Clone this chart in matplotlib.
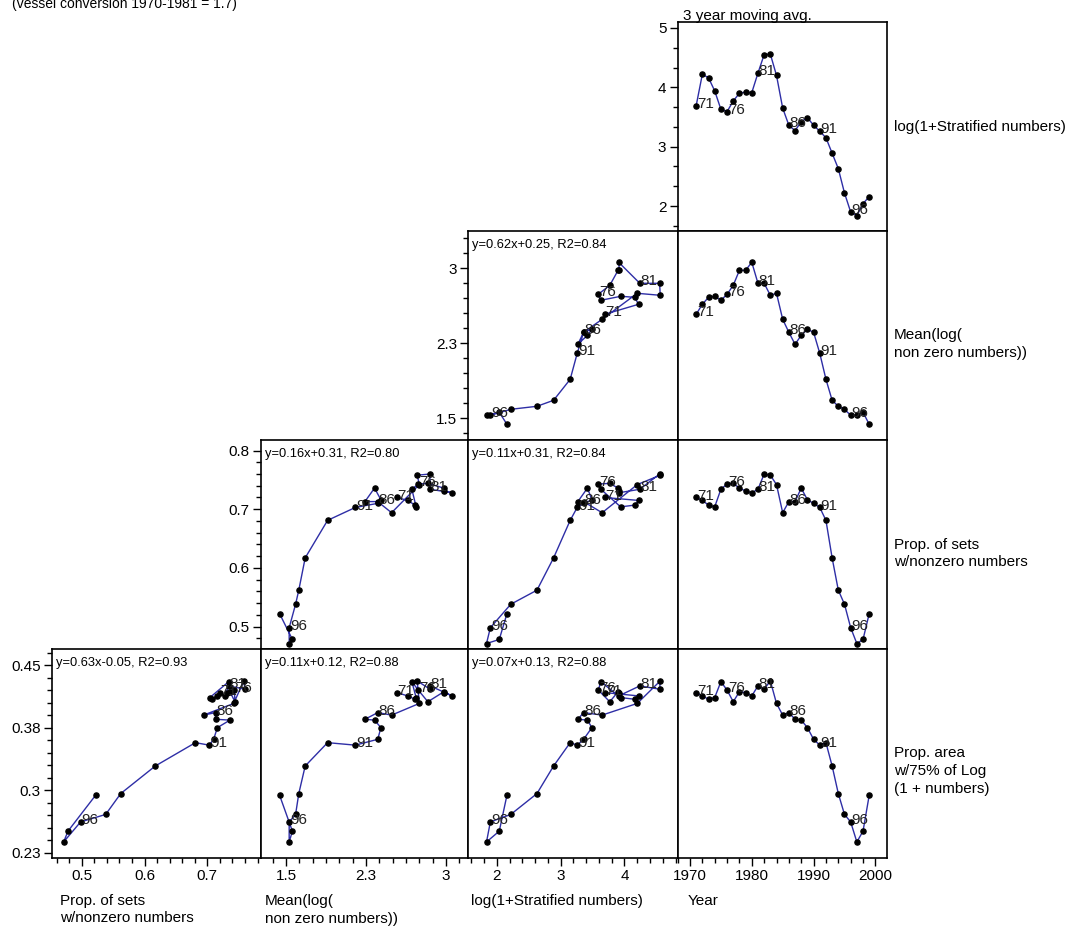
import matplotlib
matplotlib.use("Agg")
import matplotlib.pyplot as plt
from matplotlib.ticker import FixedLocator, AutoMinorLocator, NullLocator

plt.rcParams["font.family"] = ["Liberation Sans", "DejaVu Sans"]

# ---- data -----------------------------------------------------------------
years = list(range(1971, 2000))

# log(1+Stratified numbers), 3 year moving average
strat = [3.69, 4.22, 4.16, 3.94, 3.63, 3.59, 3.77, 3.90, 3.92, 3.91,
         4.24, 4.55, 4.56, 4.20, 3.65, 3.36, 3.27, 3.42, 3.49, 3.36,
         3.26, 3.15, 2.89, 2.63, 2.22, 1.90, 1.84, 2.04, 2.16]

# Mean(log(non zero numbers))
mean_nz = [2.54, 2.64, 2.71, 2.72, 2.68, 2.74, 2.83, 2.98, 2.98, 3.06,
           2.85, 2.85, 2.73, 2.75, 2.49, 2.36, 2.24, 2.33, 2.39, 2.36,
           2.15, 1.89, 1.68, 1.62, 1.59, 1.53, 1.53, 1.56, 1.44]

# Prop. of sets w/nonzero numbers
prop_sets = [0.720, 0.715, 0.707, 0.704, 0.734, 0.743, 0.744, 0.736, 0.731, 0.728,
             0.734, 0.760, 0.758, 0.742, 0.694, 0.713, 0.713, 0.736, 0.716, 0.710,
             0.703, 0.681, 0.617, 0.562, 0.538, 0.498, 0.471, 0.478, 0.522]

# Prop. area w/75% of Log(1 + numbers)
prop_area = [0.417, 0.413, 0.409, 0.411, 0.430, 0.420, 0.406, 0.418, 0.417, 0.413,
             0.425, 0.421, 0.431, 0.404, 0.390, 0.393, 0.385, 0.384, 0.375, 0.361,
             0.354, 0.357, 0.329, 0.296, 0.271, 0.262, 0.238, 0.251, 0.294]

label_years = [1971, 1976, 1981, 1986, 1991, 1996]

var_names = ["log(1+Stratified numbers)",
             "Mean(log(\nnon zero numbers))",
             "Prop. of sets\nw/nonzero numbers",
             "Prop. area\nw/75% of Log\n(1 + numbers)"]

# regression text for (row, col) panels
fit_text = {
    (1, 2): "y=0.62x+0.25, R2=0.84",
    (2, 1): "y=0.16x+0.31, R2=0.80",
    (2, 2): "y=0.11x+0.31, R2=0.84",
    (3, 0): "y=0.63x-0.05, R2=0.93",
    (3, 1): "y=0.11x+0.12, R2=0.88",
    (3, 2): "y=0.07x+0.13, R2=0.88",
}

# row variables (top to bottom) and column variables (left to right)
row_data = [strat, mean_nz, prop_sets, prop_area]
col_data = [prop_sets, mean_nz, strat, years]

row_ticks = [([2, 3, 4, 5], ["2", "3", "4", "5"]),
             ([1.5, 2.25, 3.0], ["1.5", "2.3", "3"]),
             ([0.5, 0.6, 0.7, 0.8], ["0.5", "0.6", "0.7", "0.8"]),
             ([0.225, 0.3, 0.375, 0.45], ["0.23", "0.3", "0.38", "0.45"])]
row_minor = [3, 5, 5, 5]
row_lims = [(1.58, 5.10), (1.283, 3.373), (0.4617, 0.818), (0.2188, 0.4692)]

col_ticks = [([0.5, 0.6, 0.7], ["0.5", "0.6", "0.7"]),
             ([1.5, 2.25, 3.0], ["1.5", "2.3", "3"]),
             ([2, 3, 4], ["2", "3", "4"]),
             ([1970, 1980, 1990, 2000], ["1970", "1980", "1990", "2000"])]
col_minor = [5, 6, 5, 5]
col_lims = [(0.452, 0.785), (1.263, 3.209), (1.555, 4.83), (1967.98, 2001.83)]

# panel grid in pixels
W, H = 1077, 933
col_edges = [51.7, 260.7, 468.3, 677.5, 886.7]
row_edges = [22, 231, 440, 649, 858]
first_col = [3, 2, 1, 0]   # leftmost panel present in each row

LINE = "#2e2ea6"
FS = 11

fig = plt.figure(figsize=(W / 100, H / 100), dpi=100)
fig.patch.set_facecolor("white")


def add_panel(r, c):
    x0, x1 = col_edges[c], col_edges[c + 1]
    y0, y1 = row_edges[r], row_edges[r + 1]
    ax = fig.add_axes([x0 / W, 1 - y1 / H, (x1 - x0) / W, (y1 - y0) / H])
    ax.set_xlim(*col_lims[c])
    ax.set_ylim(*row_lims[r])
    for sp in ax.spines.values():
        sp.set_linewidth(1.2)
        sp.set_color("black")
    xs, ys = col_data[c], row_data[r]
    ax.plot(xs, ys, color=LINE, lw=1.0, marker="o", ms=3.7,
            mfc="black", mec="black", zorder=3)
    for yr in label_years:
        i = years.index(yr)
        ax.annotate(str(yr)[2:], (xs[i], ys[i]), xytext=(0.5, -1.5),
                    textcoords="offset points", ha="left", va="baseline",
                    fontsize=FS, color="#222222", zorder=4)
    if (r, c) in fit_text:
        ax.text(4 / (x1 - x0), 1 - 14 / (y1 - y0), fit_text[(r, c)],
                transform=ax.transAxes, ha="left", va="center", fontsize=9.3)
    # ticks
    ax.tick_params(which="both", direction="out", labelsize=FS, pad=2,
                   colors="black")
    ax.tick_params(which="major", length=6, width=1)
    ax.tick_params(which="minor", length=3.5, width=1)
    if r == 3:
        loc, lab = col_ticks[c]
        ax.xaxis.set_major_locator(FixedLocator(loc))
        ax.set_xticklabels(lab)
        ax.xaxis.set_minor_locator(AutoMinorLocator(col_minor[c]))
    else:
        ax.xaxis.set_major_locator(NullLocator())
        ax.xaxis.set_minor_locator(NullLocator())
    if c == first_col[r]:
        loc, lab = row_ticks[r]
        ax.yaxis.set_major_locator(FixedLocator(loc))
        ax.set_yticklabels(lab)
        ax.yaxis.set_minor_locator(AutoMinorLocator(row_minor[r]))
    else:
        ax.yaxis.set_major_locator(NullLocator())
        ax.yaxis.set_minor_locator(NullLocator())
    return ax


for r in range(4):
    for c in range(first_col[r], 4):
        add_panel(r, c)

# row titles on the right
for r, name in enumerate(var_names):
    centre = (row_edges[r] + row_edges[r + 1]) / 2
    for k, line in enumerate(name.split("\n")):
        yb = centre + 4 + k * 17.5
        fig.text(894 / W, 1 - yb / H, line, ha="left", va="baseline",
                 fontsize=FS)

# column titles at the bottom
col_names = ["Prop. of sets\nw/nonzero numbers",
             "Mean(log(\nnon zero numbers))",
             "log(1+Stratified numbers)",
             "Year"]
col_text_x = [60, 265, 471, 688]
for c, name in enumerate(col_names):
    for k, line in enumerate(name.split("\n")):
        yb = 905 + k * 17.5
        fig.text(col_text_x[c] / W, 1 - yb / H, line, ha="left",
                 va="baseline", fontsize=FS)

fig.text(683 / W, 1 - 20 / H, "3 year moving avg.", ha="left",
         va="baseline", fontsize=FS)
fig.text(12 / W, 1 - 8 / H, "(vessel conversion 1970-1981 = 1.7)",
         ha="left", va="baseline", fontsize=10)

fig.savefig("out.png", dpi=100, facecolor="white")
